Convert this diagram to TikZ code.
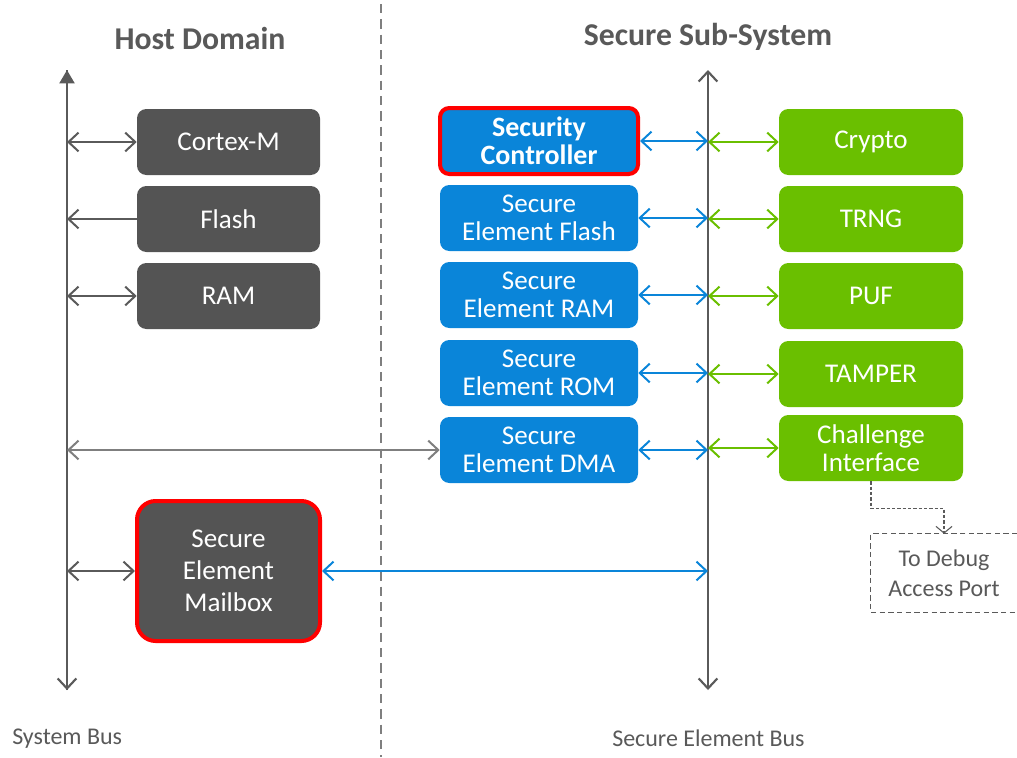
\documentclass[tikz,border=0pt]{standalone}
\usepackage{fontspec}
\setmainfont{Carlito}
\usetikzlibrary{arrows.meta}
\definecolor{hostgray}{HTML}{545454}
\definecolor{seblue}{HTML}{0A85D9}
\definecolor{segreen}{HTML}{6ABF00}
\definecolor{txtgray}{HTML}{595959}
\definecolor{busgray}{HTML}{5A5A5A}
\definecolor{lightgray}{HTML}{7F7F7F}
\definecolor{hired}{HTML}{FF0000}
\tikzset{
  box/.style={rectangle, rounded corners=7pt, inner sep=0pt, align=center,
    text=white, font=\fontsize{20.3}{21}\selectfont},
  hostbox/.style={box, fill=hostgray, minimum width=137.25pt, minimum height=49.5pt},
  bluebox/.style={box, fill=seblue, minimum width=148.5pt, minimum height=49.5pt},
  greenbox/.style={box, fill=segreen, minimum width=138pt, minimum height=49.5pt},
  hilite/.style={draw=hired, line width=3pt},
  barb/.tip={Straight Barb[length=7.5pt,width=14pt,line width=1.5pt]},
  conn/.style={line width=1.5pt, {barb}-{barb}},
  gconn/.style={conn, draw=busgray},
  bconn/.style={conn, draw=seblue},
  grconn/.style={conn, draw=segreen},
  bus/.style={line width=2.2pt, draw=busgray},
  title/.style={font=\fontsize{23.8}{28}\selectfont\bfseries, text=txtgray},
  buslabel/.style={font=\fontsize{18}{22}\selectfont, text=txtgray, anchor=west, inner sep=0pt},
}
\begin{document}
\begin{tikzpicture}[x=0.75pt,y=-0.75pt]
\useasboundingbox (0,0) rectangle (1017,757);

% titles
\node[title] (th) at (200,38) {Host Domain};
\node[title] (ts) at (708,37) {Secure Sub-System};

% divider
\draw[lightgray, line width=1.6pt, dash pattern=on 7pt off 4.5pt] (381,4) -- (381,757);

% buses
\coordinate (sysTop) at (67,70);
\coordinate (sysBot) at (67,690);
\coordinate (seTop) at (708,70);
\coordinate (seBot) at (708,690);
\draw[bus, -{Triangle[length=10pt,width=11pt]}] (sysBot) -- (sysTop);
\draw[bus, -{Straight Barb[length=7.5pt,width=14pt,line width=1.6pt]}] (sysTop) -- (sysBot);
\draw[bus, {Straight Barb[length=7.5pt,width=14pt,line width=1.6pt]}-{Straight Barb[length=7.5pt,width=14pt,line width=1.6pt]}] (seTop) -- (seBot);

% host boxes
\node[hostbox] (cortex) at (228.5,142) {Cortex-M};
\node[hostbox] (flash) at (228.5,219) {Flash};
\node[hostbox] (ram) at (228.5,296) {RAM};
\node[hostbox, hilite, minimum height=105pt, rounded corners=14pt,
      font=\fontsize{20.3}{24}\selectfont] (mailbox) at (228.5,571) {Secure\\Element\\Mailbox};

% secure element boxes
\node[bluebox, hilite, font=\fontsize{21}{21}\selectfont\bfseries] (sc) at (539,141) {Security\\Controller};
\node[bluebox] (sef) at (539,218) {Secure\\Element Flash};
\node[bluebox] (ser) at (539,295) {Secure\\Element RAM};
\node[bluebox] (sero) at (539,373) {Secure\\Element ROM};
\node[bluebox] (sed) at (539,450) {Secure\\Element DMA};

% green boxes
\node[greenbox] (crypto) at (871,142) {Crypto};
\node[greenbox] (trng) at (871,219) {TRNG};
\node[greenbox] (puf) at (871,296) {PUF};
\node[greenbox] (tamper) at (871,374) {TAMPER};
\node[greenbox] (chal) at (871,448) {Challenge\\Interface};

% debug box
\node[inner sep=0pt, minimum width=109.5pt, minimum height=58.5pt, align=center,
      text=txtgray, font=\fontsize{18}{22.5}\selectfont] (debug) at (944,573) {To Debug\\Access Port};
\draw[busgray, line width=1pt, dash pattern=on 4pt off 2.5pt] (debug.north east) -- (debug.north west)
   -- (debug.south west) -- (debug.south east);
\draw[busgray, line width=0.8pt, dash pattern=on 2.5pt off 1.5pt,
      -{Straight Barb[length=5pt,width=12pt,line width=0.8pt]}]
   (chal.south) -- ++(0,27) -| (debug.north);

% host connectors
\draw[gconn] (cortex.west -| sysTop) -- (cortex.west);
\draw[line width=1.5pt, draw=busgray, {barb}-] (flash.west -| sysTop) -- (flash.west);
\draw[gconn] (ram.west -| sysTop) -- (ram.west);
\draw[gconn] (mailbox.west -| sysTop) -- (mailbox.west);
\draw[conn, draw=lightgray] (sed.west -| sysTop) -- (sed.west);

% blue connectors
\foreach \n in {sc,sef,ser,sero,sed}{
  \draw[bconn] (\n.east) -- (\n.east -| seTop);
}
\draw[bconn] (mailbox.east) -- (mailbox.east -| seTop);

% green connectors
\foreach \n in {crypto,trng,puf,tamper,chal}{
  \draw[grconn] (\n.west -| seTop) -- (\n.west);
}

% bus labels
\node[buslabel] (lsys) at (12,739) {System Bus};
\node[buslabel] (lse) at (612,738) {Secure Element Bus};
\end{tikzpicture}
\end{document}
